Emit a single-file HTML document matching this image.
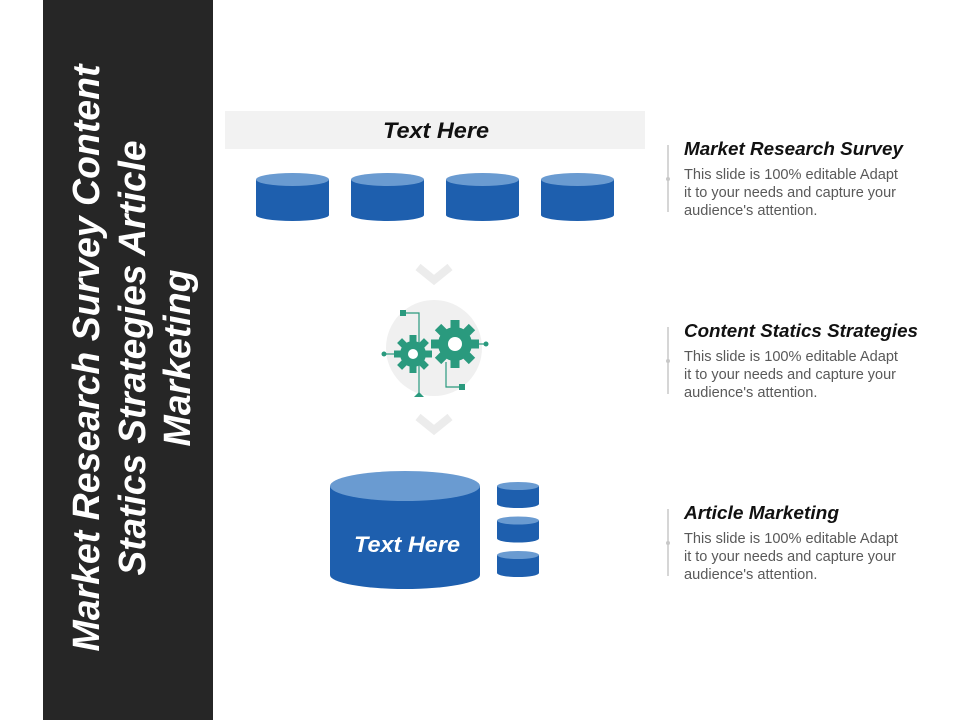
<!DOCTYPE html>
<html><head><meta charset="utf-8"><style>
html,body{margin:0;padding:0;background:#fff;}
svg{display:block;font-family:"Liberation Sans",Arial,sans-serif;}
.b{font-weight:bold;font-style:italic;}
</style></head><body>
<svg width="960" height="720" viewBox="0 0 960 720" xmlns="http://www.w3.org/2000/svg">
<rect x="43" y="0" width="170" height="720" fill="#262626"/>
<g fill="#fff" class="b" font-size="38" text-anchor="middle">
<text class="b" transform="translate(99,358) rotate(-90)" textLength="587" lengthAdjust="spacingAndGlyphs">Market Research Survey Content</text>
<text class="b" transform="translate(145,358) rotate(-90)" textLength="435" lengthAdjust="spacingAndGlyphs">Statics Strategies Article</text>
<text class="b" transform="translate(190,358) rotate(-90)" textLength="177" lengthAdjust="spacingAndGlyphs">Marketing</text>
</g>
<rect x="225" y="111" width="420" height="38" fill="#f2f2f2"/>
<text class="b" x="436" y="138" text-anchor="middle" font-size="22" fill="#111" textLength="106" lengthAdjust="spacingAndGlyphs">Text Here</text>
<g>
<g id="c"><path d="M256 179.5 V215 A36.5 6 0 0 0 329 215 V179.5 Z" fill="#1e5fae"/><ellipse cx="292.5" cy="179.5" rx="36.5" ry="6.5" fill="#6a9bd1"/></g>
<use href="#c" x="95"/><use href="#c" x="190"/><use href="#c" x="285"/>
</g>
<g fill="none" stroke="#ececec" stroke-width="8">
<polyline points="418,267 434,280 450,267"/>
<polyline points="418,417 434,430 450,417"/>
</g>
<circle cx="434" cy="348" r="48" fill="#f0f0f0"/>
<g fill="#2a9a7e" stroke="#2a9a7e">
<g stroke="none">
<circle cx="413" cy="354" r="13"/>
<g transform="translate(413,354)"><rect x="-3.5" y="-19" width="7" height="38"/><rect x="-3.5" y="-19" width="7" height="38" transform="rotate(45)"/><rect x="-3.5" y="-19" width="7" height="38" transform="rotate(90)"/><rect x="-3.5" y="-19" width="7" height="38" transform="rotate(135)"/></g>
<circle cx="455" cy="344" r="17"/>
<g transform="translate(455,344)"><rect x="-4.5" y="-24" width="9" height="48"/><rect x="-4.5" y="-24" width="9" height="48" transform="rotate(45)"/><rect x="-4.5" y="-24" width="9" height="48" transform="rotate(90)"/><rect x="-4.5" y="-24" width="9" height="48" transform="rotate(135)"/></g>
</g>
<circle cx="413" cy="354" r="5" fill="#fff" stroke="none"/>
<circle cx="455" cy="344" r="7" fill="#fff" stroke="none"/>
<polyline points="403,313 419,313 419,396" fill="none" stroke-width="1.2"/>
<rect x="400" y="310" width="6" height="6" stroke="none"/>
<polygon points="414,397 419,392 424,397" stroke="none"/>
<polyline points="446,362 446,387 462,387" fill="none" stroke-width="1.2"/>
<rect x="459" y="384" width="6" height="6" stroke="none"/>
<line x1="385" y1="354" x2="395" y2="354" stroke-width="1.2"/><circle cx="384" cy="354" r="2.5" stroke="none"/>
<line x1="478" y1="344" x2="485" y2="344" stroke-width="1.2"/><circle cx="486" cy="344" r="2.5" stroke="none"/>
</g>
<path d="M330 486 V575 A75 14 0 0 0 480 575 V486 Z" fill="#1e5fae"/>
<ellipse cx="405" cy="486" rx="75" ry="15" fill="#6a9bd1"/>
<text class="b" x="407" y="552" text-anchor="middle" font-size="22" fill="#fff" textLength="106" lengthAdjust="spacingAndGlyphs">Text Here</text>
<g id="s"><path d="M497 486 V504 A21 4 0 0 0 539 504 V486 Z" fill="#1e5fae"/><ellipse cx="518" cy="486" rx="21" ry="4" fill="#6a9bd1"/></g>
<use href="#s" y="34.5"/><use href="#s" y="69"/>
<g fill="#595959" font-size="14.6">
<line x1="668" y1="145" x2="668" y2="212" stroke="#c8c8c8" stroke-width="1.5"/><circle cx="668" cy="179" r="2" fill="#c8c8c8"/>
<text class="b" x="684" y="155" font-size="18" fill="#111" textLength="219" lengthAdjust="spacingAndGlyphs">Market Research Survey</text>
<text x="684" y="179" textLength="214" lengthAdjust="spacingAndGlyphs">This slide is 100% editable Adapt</text>
<text x="684" y="197" textLength="212" lengthAdjust="spacingAndGlyphs">it to your needs and capture your</text>
<text x="684" y="215">audience's attention.</text>
<line x1="668" y1="327" x2="668" y2="394" stroke="#c8c8c8" stroke-width="1.5"/><circle cx="668" cy="361" r="2" fill="#c8c8c8"/>
<text class="b" x="684" y="337" font-size="18" fill="#111" textLength="234" lengthAdjust="spacingAndGlyphs">Content Statics Strategies</text>
<text x="684" y="361" textLength="214" lengthAdjust="spacingAndGlyphs">This slide is 100% editable Adapt</text>
<text x="684" y="379" textLength="212" lengthAdjust="spacingAndGlyphs">it to your needs and capture your</text>
<text x="684" y="397">audience's attention.</text>
<line x1="668" y1="509" x2="668" y2="576" stroke="#c8c8c8" stroke-width="1.5"/><circle cx="668" cy="543" r="2" fill="#c8c8c8"/>
<text class="b" x="684" y="519" font-size="18" fill="#111" textLength="155" lengthAdjust="spacingAndGlyphs">Article Marketing</text>
<text x="684" y="543" textLength="214" lengthAdjust="spacingAndGlyphs">This slide is 100% editable Adapt</text>
<text x="684" y="561" textLength="212" lengthAdjust="spacingAndGlyphs">it to your needs and capture your</text>
<text x="684" y="579">audience's attention.</text>
</g>
</svg>
</body></html>
